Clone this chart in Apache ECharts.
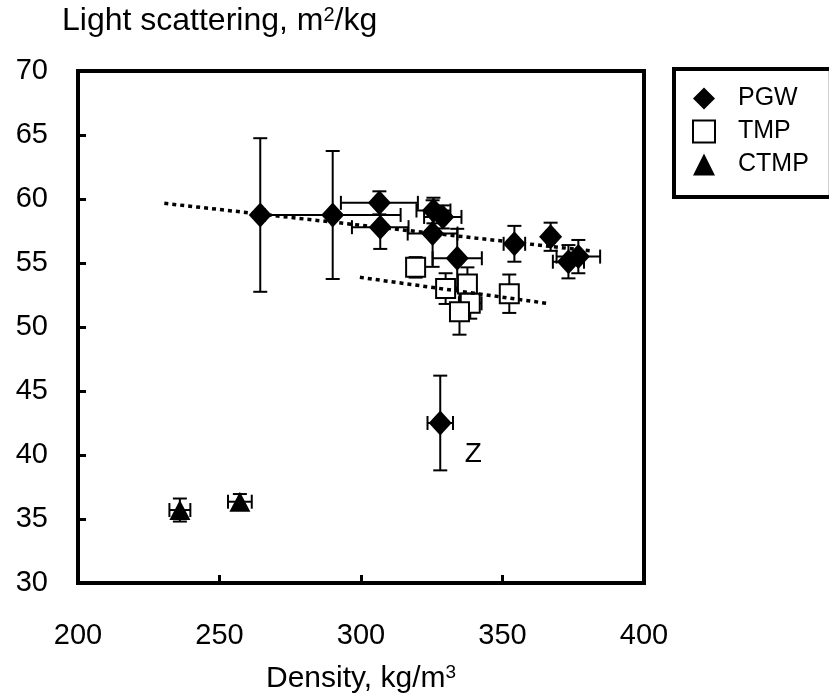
<!DOCTYPE html>
<html>
<head>
<meta charset="utf-8">
<script src="https://cdn.jsdelivr.net/npm/echarts@6/dist/echarts.min.js"></script>
<style>
  html, body { margin: 0; padding: 0; background: #fff; }
  #chart { width: 829px; height: 699px; }
</style>
</head>
<body>
<div id="chart"></div>
<script>
// data
const pgwX = [264.4, 290, 306.5, 306.8, 325.6, 328.9, 325.3, 334, 354.2, 367, 373.3, 376.8, 328];
const pgwY = [58.75, 58.75, 59.7, 57.8, 59.1, 58.6, 57.3, 55.37, 56.5, 57.05, 55.1, 55.5, 42.5];
const pgwXerr = [0, 24, 13.6, 10, 6, 6.6, 8.8, 8.7, 3.8, 1.5, 5.5, 7.7, 4.5];
const pgwYerr = [6, 5, 0.9, 1.7, 1, 0.9, 2.6, 2.3, 1.4, 1.1, 1.3, 1.3, 3.7];

const tmpX = [319.3, 329.9, 337.6, 338.6, 334.8, 352.4];
const tmpY = [54.66, 53.0, 53.36, 51.85, 51.2, 52.6];
const tmpXerr = [2, 2, 2.5, 4, 2, 2];
const tmpYerr = [0.8, 1.2, 1.3, 1.2, 1.8, 1.5];

const ctmpX = [236, 257.2];
const ctmpY = [35.7, 36.35];
const ctmpXerr = [3.7, 4.2];
const ctmpYerr = [0.9, 0.6];

// dotted trend lines (end points)
const pgwTrendX = [230.5, 381];
const pgwTrendY = [59.66, 55.95];
const tmpTrendX = [299.6, 365.6];
const tmpTrendY = [53.88, 51.85];

const zIndex = 12; // point marked "Z"

const font = 'Liberation Sans, Arial, sans-serif';

const pts = (xs, ys) => xs.map((x, i) => [x, ys[i]]);
const errs = (xs, ys, ex, ey) => xs.map((x, i) => [x, ys[i], ex[i], ey[i]]);

const cap = 7;
const seg = (x1, y1, x2, y2) => ({
  type: 'line',
  shape: {x1: x1, y1: y1, x2: x2, y2: y2},
  style: {stroke: '#000', lineWidth: 2}
});

function renderErr(params, api) {
  let x = api.value(0), y = api.value(1), ex = api.value(2), ey = api.value(3);
  let kids = [];
  if (ey > 0) {
    let t = api.coord([x, y + ey]), b = api.coord([x, y - ey]);
    kids.push(seg(t[0], t[1], b[0], b[1]));
    kids.push(seg(t[0] - cap, t[1], t[0] + cap, t[1]));
    kids.push(seg(b[0] - cap, b[1], b[0] + cap, b[1]));
  }
  if (ex > 0) {
    let l = api.coord([x - ex, y]), r = api.coord([x + ex, y]);
    kids.push(seg(l[0], l[1], r[0], r[1]));
    kids.push(seg(l[0], l[1] - cap, l[0], l[1] + cap));
    kids.push(seg(r[0], r[1] - cap, r[0], r[1] + cap));
  }
  return {type: 'group', children: kids};
}

const errSeries = (data) => ({
  type: 'custom',
  renderItem: renderErr,
  data: data,
  encode: {x: 0, y: 1},
  z: 1,
  silent: true
});

const pgwData = pts(pgwX, pgwY).map((p, i) => i === zIndex ? {
  value: p,
  label: {show: true, formatter: 'Z', position: [36, 30],
    color: '#000', fontSize: 28, fontFamily: font}
} : p);

let myChart = echarts.init(document.getElementById('chart'));
myChart.setOption({
  animation: false,
  backgroundColor: '#fff',
  textStyle: {fontFamily: font},
  grid: {
    left: 78,
    right: 185,
    top: 71,
    bottom: 116,
    show: true,
    borderColor: '#000',
    borderWidth: 4,
    backgroundColor: 'transparent'
  },
  legend: {
    orient: 'vertical',
    left: 674,
    top: 69,
    padding: [17, 22, 20, 18],
    itemGap: 8,
    itemWidth: 22,
    itemHeight: 22,
    borderColor: '#000',
    borderWidth: 4,
    textStyle: {fontSize: 25, color: '#000', fontFamily: font, padding: [0, 0, 0, 18]},
    data: ['PGW', 'TMP', 'CTMP']
  },
  graphic: [{
    type: 'text',
    left: 62,
    top: 5,
    style: {
      text: '{a|Light scattering, m}{s|2}{a|/kg}',
      rich: {
        a: {fontSize: 32, fontFamily: font, color: '#000'},
        s: {fontSize: 20, fontFamily: font, verticalAlign: 'top', color: '#000', padding: [0, 0, 12, 0]}
      }
    }
  }],
  xAxis: {
    type: 'value',
    min: 200,
    max: 400,
    interval: 50,
    name: '{a|Density, kg/m}{s|3}',
    nameLocation: 'middle',
    nameGap: 80,
    nameTextStyle: {
      rich: {
        a: {fontSize: 30, fontFamily: font, color: '#000'},
        s: {fontSize: 19, fontFamily: font, color: '#000', verticalAlign: 'top', padding: [0, 0, 12, 0]}
      }
    },
    axisLine: {show: false},
    axisTick: {show: true, inside: true, length: 8, lineStyle: {color: '#000', width: 3}},
    axisLabel: {margin: 38, fontSize: 29, color: '#000', fontFamily: font},
    splitLine: {show: false}
  },
  yAxis: {
    type: 'value',
    min: 30,
    max: 70,
    interval: 5,
    axisLine: {show: false},
    axisTick: {show: true, inside: true, length: 8, lineStyle: {color: '#000', width: 3}},
    axisLabel: {margin: 30, fontSize: 29, color: '#000', fontFamily: font},
    splitLine: {show: false}
  },
  series: [
    errSeries(errs(pgwX, pgwY, pgwXerr, pgwYerr)),
    errSeries(errs(tmpX, tmpY, tmpXerr, tmpYerr)),
    errSeries(errs(ctmpX, ctmpY, ctmpXerr, ctmpYerr)),
    {
      name: 'PGW',
      type: 'scatter',
      symbol: 'diamond',
      symbolSize: [23, 25],
      itemStyle: {color: '#000', opacity: 1},
      z: 2,
      data: pgwData
    },
    {
      name: 'TMP',
      type: 'scatter',
      symbol: 'rect',
      symbolSize: 19,
      itemStyle: {color: '#fff', borderColor: '#000', borderWidth: 2, opacity: 1},
      z: 2,
      data: pts(tmpX, tmpY)
    },
    {
      name: 'CTMP',
      type: 'scatter',
      symbol: 'triangle',
      symbolSize: [21, 20],
      itemStyle: {color: '#000', opacity: 1},
      z: 2,
      data: pts(ctmpX, ctmpY)
    },
    {
      type: 'line',
      showSymbol: false,
      silent: true,
      z: 3,
      lineStyle: {color: '#000', width: 3.5, type: [4, 4]},
      data: pts(pgwTrendX, pgwTrendY)
    },
    {
      type: 'line',
      showSymbol: false,
      silent: true,
      z: 3,
      lineStyle: {color: '#000', width: 3.5, type: [4, 4]},
      data: pts(tmpTrendX, tmpTrendY)
    }
  ]
});
</script>
</body>
</html>
